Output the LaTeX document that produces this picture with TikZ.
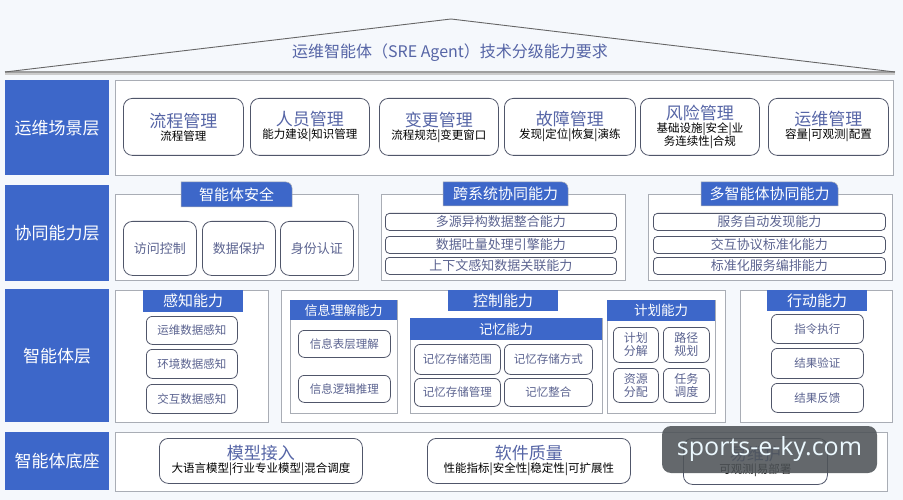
\documentclass[tikz,border=0pt]{standalone}
\usepackage{fontspec}
\setmainfont{Noto Sans CJK SC}
\newfontfamily\wmfont{Open Sans}
\usepackage{xcolor}
\usepackage{tikz}
\usetikzlibrary{positioning}
\definecolor{bgc}{HTML}{F5F8FC}
\definecolor{lyrblue}{HTML}{3D67C9}
\definecolor{pline}{HTML}{A9ADB5}
\definecolor{cline}{HTML}{50566A}
\definecolor{ttl}{HTML}{5665A6}
\definecolor{itxt}{HTML}{5B6390}
\definecolor{wmark}{HTML}{4F5458}
\tikzset{
  lyr/.style ={anchor=north west, inner sep=0pt, fill=lyrblue, text=white,
               font=\fontsize{17}{20}\selectfont},
  pnl/.style ={anchor=north west, inner sep=0pt, draw=pline, fill=white, line width=0.9pt},
  card/.style={anchor=north west, inner sep=0pt, draw=cline, fill=white, line width=0.8pt,
               rounded corners=9pt, align=center, font=\fontsize{11.5}{13}\selectfont},
  itm/.style ={anchor=north west, inner sep=0pt, draw=cline, fill=white, line width=0.8pt,
               rounded corners=6pt, align=center, text=itxt, font=\fontsize{11.5}{13}\selectfont},
  bar/.style ={itm, rounded corners=4pt, font=\fontsize{13}{14}\selectfont},
  hdr/.style ={anchor=north west, inner sep=0pt, fill=lyrblue, text=white,
               font=\fontsize{15}{16}\selectfont},
  tabtxt/.style={inner sep=0pt, text=white, font=\fontsize{15}{16}\selectfont},
  tabfill/.style={fill=lyrblue, draw=pline, line width=0.5pt},
}
\newcommand{\ct}[1]{{\fontsize{17}{18}\selectfont\color{ttl}#1}}

\begin{document}
\begin{tikzpicture}[x=1pt, y=-1pt]
  \useasboundingbox[fill=bgc] (0,0) rectangle (903,500);

  % roof
  \coordinate (roofL) at (5,72);
  \coordinate (roofT) at (451,19);
  \coordinate (roofR) at (895,72);
  \draw[gray!40, line width=1.5pt] ([yshift=-2pt]roofL) -- ([yshift=-2pt]roofR);
  \draw[gray!75, line width=1.2pt] (roofL) -- (roofR);
  \draw[gray!80!black, line width=0.9pt] (roofL) -- (roofT) -- (roofR);
  \node[text=ttl, font=\fontsize{16}{18}\selectfont] (title) at (450,53)
    {运维智能体（SRE Agent）技术分级能力要求};

  % layer labels
  \node[lyr, minimum width=104pt, minimum height=95pt]  (scn) at (5,80)  {运维场景层};
  \node[lyr, minimum width=104pt, minimum height=96pt]  (col) at (5,185) {协同能力层};
  \node[lyr, minimum width=104pt, minimum height=133pt] (agt) at (5,289) {智能体层};
  \node[lyr, minimum width=104pt, minimum height=58pt]  (bas) at (5,432) {智能体底座};

  % scenario layer
  \node[pnl, minimum width=778pt, minimum height=95pt] (scnP) at (115,80) {};
  \node[card, minimum width=120pt, minimum height=57pt] (flow) at (123,98) {\ct{流程管理}\\流程管理};
  \node[card, minimum width=119pt, minimum height=57pt] (staff) at (250,98) {\ct{人员管理}\\能力建设|知识管理};
  \node[card, minimum width=119pt, minimum height=57pt] (chg) at (379,98) {\ct{变更管理}\\流程规范|变更窗口};
  \node[card, minimum width=131pt, minimum height=57pt] (fault) at (504,98) {\ct{故障管理}\\发现|定位|恢复|演练};
  \node[card, minimum width=119pt, minimum height=57pt] (risk) at (640,98) {\ct{风险管理}\\基础设施|安全|业\\务连续性|合规};
  \node[card, minimum width=120pt, minimum height=57pt] (ops) at (768,98) {\ct{运维管理}\\容量|可观测|配置};

  % collaboration layer
  \node[pnl, minimum width=243pt, minimum height=86pt] (secP) at (115,194) {};
  \fill[tabfill] (181,207) -- (181,182) [rounded corners=6pt] -- (292,182) [sharp corners] -- (292,207) -- cycle;
  \node[tabtxt] (secT) at (236.5,194.5) {智能体安全};
  \node[itm, rounded corners=9pt, minimum width=73pt, minimum height=54pt, font=\fontsize{13}{14}\selectfont] (acc) at (123,221) {访问控制};
  \node[itm, rounded corners=9pt, minimum width=73pt, minimum height=54pt, font=\fontsize{13}{14}\selectfont] (prot) at (202,221) {数据保护};
  \node[itm, rounded corners=9pt, minimum width=73pt, minimum height=54pt, font=\fontsize{13}{14}\selectfont] (auth) at (280,221) {身份认证};

  \node[pnl, minimum width=244pt, minimum height=86pt] (xsP) at (381,194) {};
  \fill[tabfill] (443,206) -- (443,182) [rounded corners=6pt] -- (568,182) [sharp corners] -- (568,206) -- cycle;
  \node[tabtxt] (xsT) at (505.5,194) {跨系统协同能力};
  \node[bar, minimum width=231pt, minimum height=17pt] (xs1) at (385,213) {多源异构数据整合能力};
  \node[bar, minimum width=231pt, minimum height=17pt] (xs2) at (385,236) {数据吐量处理引擎能力};
  \node[bar, minimum width=231pt, minimum height=17pt] (xs3) at (385,257) {上下文感知数据关联能力};

  \node[pnl, minimum width=244pt, minimum height=86pt] (maP) at (648,194) {};
  \fill[tabfill] (701,206) -- (701,182) [rounded corners=6pt] -- (838,182) [sharp corners] -- (838,206) -- cycle;
  \node[tabtxt] (maT) at (769.5,194) {多智能体协同能力};
  \node[bar, minimum width=232pt, minimum height=17pt] (ma1) at (653,213) {服务自动发现能力};
  \node[bar, minimum width=232pt, minimum height=17pt] (ma2) at (653,236) {交互协议标准化能力};
  \node[bar, minimum width=232pt, minimum height=17pt] (ma3) at (653,257) {标准化服务编排能力};

  % agent layer
  \node[pnl, minimum width=153pt, minimum height=132pt] (perP) at (115,290) {};
  \node[hdr, minimum width=100pt, minimum height=22pt] (perH) at (143,290) {感知能力};
  \node[itm, minimum width=91pt, minimum height=28pt] (per1) at (146,316) {运维数据感知};
  \node[itm, minimum width=91pt, minimum height=29pt] (per2) at (146,349) {环境数据感知};
  \node[itm, minimum width=91pt, minimum height=29pt] (per3) at (146,384) {交互数据感知};

  \node[pnl, minimum width=444pt, minimum height=132pt] (ctlP) at (281,290) {};
  \node[pnl, minimum width=107pt, minimum height=113pt] (infP) at (290,300) {};
  \node[hdr, minimum width=107pt, minimum height=20pt, font=\fontsize{13}{14}\selectfont] (infH) at (290,300) {信息理解能力};
  \node[itm, minimum width=92pt, minimum height=27pt] (inf1) at (298,330) {信息表层理解};
  \node[itm, minimum width=92pt, minimum height=27pt] (inf2) at (298,375) {信息逻辑推理};

  \node[hdr, minimum width=110pt, minimum height=21pt] (ctlH) at (448,290) {控制能力};
  \node[pnl, minimum width=192pt, minimum height=95pt] (memP) at (410,318) {};
  \node[hdr, minimum width=192pt, minimum height=22pt, font=\fontsize{13.5}{14}\selectfont] (memH) at (410,318) {记忆能力};
  \node[itm, minimum width=86pt, minimum height=30pt] (mem1) at (414,344) {记忆存储范围};
  \node[itm, minimum width=88pt, minimum height=30pt] (mem2) at (504,344) {记忆存储方式};
  \node[itm, minimum width=86pt, minimum height=28pt] (mem3) at (414,378) {记忆存储管理};
  \node[itm, minimum width=88pt, minimum height=28pt] (mem4) at (504,378) {记忆整合};

  \node[pnl, minimum width=108pt, minimum height=113pt] (plnP) at (607,300) {};
  \node[hdr, minimum width=108pt, minimum height=21pt, font=\fontsize{13.5}{14}\selectfont] (plnH) at (607,300) {计划能力};
  \node[itm, minimum width=45pt, minimum height=35pt, font=\fontsize{12}{13}\selectfont] (pln1) at (613,327) {计划\\分解};
  \node[itm, minimum width=46pt, minimum height=35pt, font=\fontsize{12}{13}\selectfont] (pln2) at (663,327) {路径\\规划};
  \node[itm, minimum width=45pt, minimum height=34pt, font=\fontsize{12}{13}\selectfont] (pln3) at (613,368) {资源\\分配};
  \node[itm, minimum width=46pt, minimum height=34pt, font=\fontsize{12}{13}\selectfont] (pln4) at (663,368) {任务\\调度};

  \node[pnl, minimum width=152pt, minimum height=132pt] (actP) at (740,290) {};
  \node[hdr, minimum width=100pt, minimum height=21pt] (actH) at (767,290) {行动能力};
  \node[itm, minimum width=92pt, minimum height=29pt] (act1) at (771,314) {指令执行};
  \node[itm, minimum width=92pt, minimum height=30pt] (act2) at (771,348) {结果验证};
  \node[itm, minimum width=92pt, minimum height=29pt] (act3) at (771,383) {结果反馈};

  % base layer
  \node[pnl, minimum width=772pt, minimum height=59pt] (basP) at (115,432) {};
  \node[card, minimum width=203pt, minimum height=45pt] (model) at (159,438) {\ct{模型接入}\\大语言模型|行业专业模型|混合调度};
  \node[card, minimum width=203pt, minimum height=45pt] (qual) at (427,438) {\ct{软件质量}\\性能指标|安全性|稳定性|可扩展性};
  \node[card, minimum width=144pt, minimum height=46pt] (maint) at (683,438) {\ct{易维护}\\可观测|易部署};

  \node[fill=wmark, fill opacity=0.88, text opacity=1, text=white!92!cyan, rounded corners=9pt,
        minimum width=215pt, minimum height=47pt, inner sep=0pt,
        font=\wmfont\fontsize{25}{28}\selectfont] (wm) at (769.5,449.5) {sports-e-ky.com};
\end{tikzpicture}
\end{document}
